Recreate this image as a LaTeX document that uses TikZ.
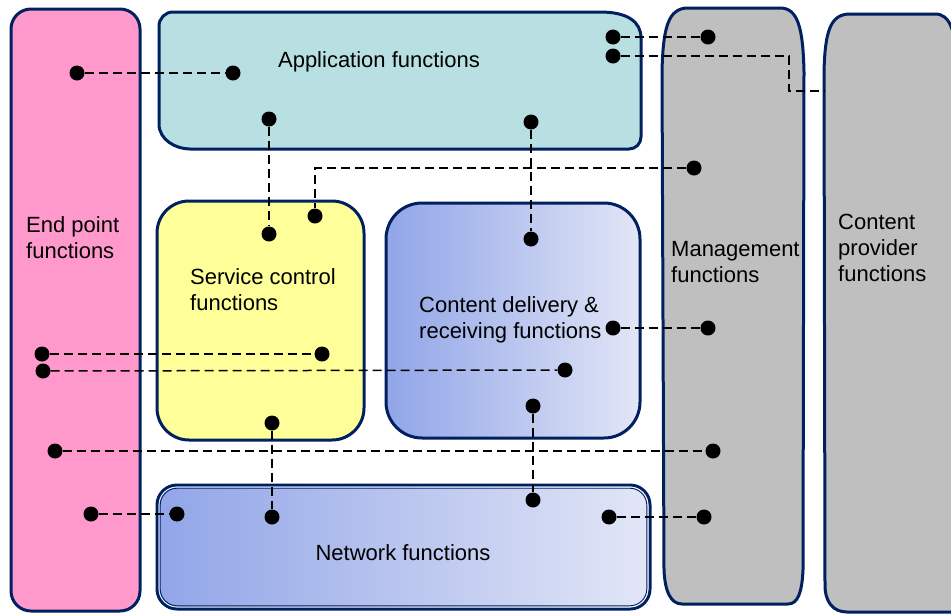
\documentclass[tikz,border=0pt]{standalone}
\usepackage{fontspec}
\setmainfont{Liberation Sans}
\definecolor{navy}{RGB}{0,32,96}
\definecolor{pinkfill}{RGB}{255,153,204}
\definecolor{appfill}{RGB}{184,224,226}
\definecolor{yelfill}{RGB}{255,255,153}
\definecolor{grayfill}{RGB}{191,191,191}
\definecolor{gradleft}{RGB}{145,165,232}
\definecolor{gradright}{RGB}{226,230,246}
\begin{document}
\begin{tikzpicture}[x=1pt,y=-1pt,
  box/.style={draw=navy, line width=3pt},
  dot/.style={circle, fill=black, inner sep=0pt, minimum size=15pt},
  link/.style={draw=black, line width=1.5pt, dash pattern=on 9pt off 5pt},
  lbl/.style={font=\fontsize{22}{26}\selectfont, align=left, inner sep=0pt, text=black}]
\useasboundingbox (0,0) rectangle (951,614);
\fill[white] (0,0) rectangle (951,614);

% End point
\draw[box, fill=pinkfill, rounded corners=20pt] (11,9) rectangle (140,611);
% Application
\draw[box, fill=appfill] (400,12) -- (600,12) .. controls (628,12) and (641,22) .. (641,38)
  [rounded corners=12pt] -- (641,149) -- (202,149) [sharp corners]
  .. controls (176,149) and (159,140) .. (159,124)
  [rounded corners=14pt] -- (159,12) -- cycle;
% Service control
\draw[box, fill=yelfill, rounded corners=32pt] (157,201) rectangle (364,440);
% Content delivery
\draw[box, left color=gradleft, right color=gradright, rounded corners=36pt] (386,203) rectangle (640,438);
% Network
\draw[box, left color=gradleft, right color=gradright, rounded corners=20pt] (157,485) rectangle (650,609);
\draw[white, line width=0.7pt, rounded corners=18pt] (159,487) rectangle (648,607);
\draw[navy, line width=0.9pt, rounded corners=17pt] (160.2,488.2) rectangle (646.8,605.8);
% Management
\draw[box, fill=grayfill] (700,8) -- (780,8) .. controls (798,8) and (803,28) .. (804,72)
  -- (803,570) .. controls (802,592) and (798,604) .. (788,604)
  -- (682,604) .. controls (671,604) and (665,592) .. (664,570)
  -- (662,72) .. controls (663,28) and (668,8) .. (688,8) -- cycle;
% Content provider
\draw[box, fill=grayfill] (850,14) -- (935,14) .. controls (950,14) and (956,30) .. (957,70)
  -- (957,612) -- (847,612) .. controls (833,612) and (825,602) .. (825,585)
  -- (824,72) .. controls (825,32) and (830,14) .. (850,14) -- cycle;

% Labels
\node[lbl, anchor=center] (tapp) at (379,62) {Application functions};
\node[lbl, anchor=west] (tend) at (26,238) {End point\\functions};
\node[lbl, anchor=west] (tsc) at (190,290) {Service control\\functions};
\node[lbl, anchor=west] (tcd) at (419,320) {Content delivery \&\\receiving functions};
\node[lbl, anchor=west] (tmg) at (671,262) {Management\\functions};
\node[lbl, anchor=west] (tcp) at (838,248) {Content\\provider\\functions};
\node[lbl, anchor=center] (tnet) at (403,553) {Network functions};

% Dots
\node[dot] (e1) at (77,73) {};
\node[dot] (a1) at (233,73) {};
\node[dot] (a2) at (613,37) {};
\node[dot] (m1) at (708,37) {};
\node[dot] (a3) at (613,56) {};
\coordinate (cpturn) at (789,91);
\coordinate (cpin) at (824,91);
\node[dot] (a4) at (269,119) {};
\node[dot] (s1) at (269,234) {};
\node[dot] (a5) at (531,122) {};
\node[dot] (c1) at (531,239) {};
\node[dot] (m2) at (694,168) {};
\node[dot] (s2) at (315,216) {};
\node[dot] (c2) at (613,328) {};
\node[dot] (m3) at (708,328) {};
\node[dot] (e2) at (42,354) {};
\node[dot] (s3) at (322,354) {};
\node[dot] (e3) at (43,371) {};
\node[dot] (c3) at (565,370) {};
\node[dot] (s4) at (272,423) {};
\node[dot] (n1) at (272,517) {};
\node[dot] (c4) at (533,406) {};
\node[dot] (n2) at (533,500) {};
\node[dot] (e4) at (55,451) {};
\node[dot] (m4) at (713,451) {};
\node[dot] (e5) at (91,514) {};
\node[dot] (n3) at (177,514) {};
\node[dot] (n4) at (609,517) {};
\node[dot] (m5) at (704,517) {};

% Connectors
\draw[link] (e1) -- (a1);
\draw[link] (a2) -- (m1);
\draw[link] (a3) -| (cpturn) -- (cpin);
\draw[link] (a4) -- (s1);
\draw[link] (a5) -- (c1);
\draw[link] (m2) -| (s2);
\draw[link] (c2) -- (m3);
\draw[link] (e2) -- (s3);
\draw[link] (e3) -- (c3);
\draw[link] (s4) -- (n1);
\draw[link] (c4) -- (n2);
\draw[link] (e4) -- (m4);
\draw[link] (e5) -- (n3);
\draw[link] (n4) -- (m5);
\end{tikzpicture}
\end{document}
